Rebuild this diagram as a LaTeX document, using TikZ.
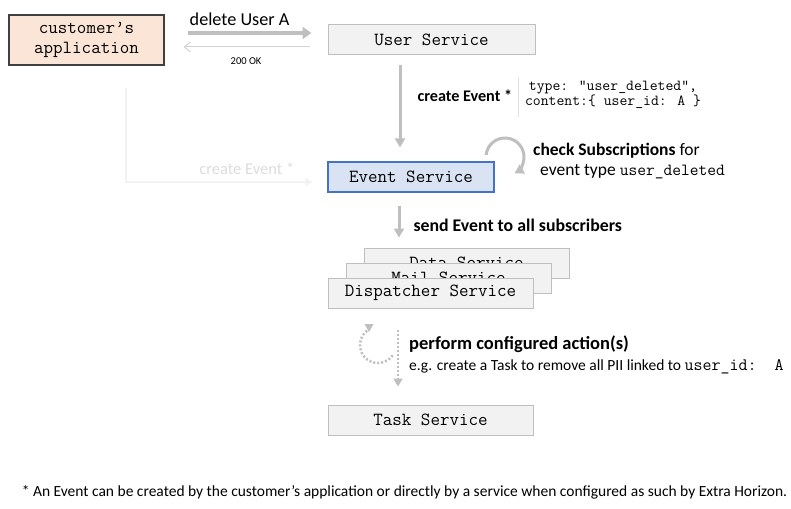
\documentclass[tikz,border=0pt]{standalone}
\usepackage{fontspec}
\setmainfont{Carlito}
\usetikzlibrary{arrows.meta, positioning}

\definecolor{appfill}{HTML}{FBE5D6}
\definecolor{appline}{HTML}{404040}
\definecolor{svcfill}{HTML}{F2F2F2}
\definecolor{svcline}{HTML}{BFBFBF}
\definecolor{evfill}{HTML}{DAE3F3}
\definecolor{evline}{HTML}{4472C4}
\definecolor{arrgray}{HTML}{BFBFBF}
\definecolor{faint}{HTML}{F2F2F2}
\definecolor{fainttext}{HTML}{DCDCDC}

\begin{document}
\begin{tikzpicture}[x=1pt, y=-1pt,
    svcbox/.style={rectangle, draw=svcline, fill=svcfill, line width=1pt,
                   minimum width=205pt, minimum height=30pt, inner sep=0pt,
                   font=\fontsize{18.5}{20}\selectfont\ttfamily},
    appbox/.style={svcbox, draw=appline, fill=appfill, line width=1.2pt,
                   minimum width=155pt, minimum height=50pt, align=center},
    evbox/.style={svcbox, draw=evline, fill=evfill, line width=1.2pt,
                  minimum width=166pt},
    lbl/.style={inner sep=0pt, font=\fontsize{16.5}{20}\selectfont},
    blbl/.style={inner sep=0pt, font=\fontsize{17.8}{20}\selectfont\bfseries},
    code/.style={inner sep=0pt, font=\fontsize{15.3}{12}\selectfont\ttfamily},
    bigarr/.style={-{Triangle[width=12pt, length=9pt]}, line width=4pt, draw=arrgray},
    thinarr/.style={-{Straight Barb[width=10pt, length=6pt]}, line width=1pt, draw=arrgray!70},
    downarr/.style={-{Triangle[width=10pt, length=9pt]}, line width=3pt, draw=arrgray},
    fadearr/.style={-{Triangle[width=9pt, length=7pt]}, line width=2.5pt, draw=faint},
    dotarr/.style={-{Triangle[width=9pt, length=8pt]}, line width=2.5pt, draw=arrgray,
                   dash pattern=on 2pt off 2pt},
]

\useasboundingbox (0,0) rectangle (791,508);

% --- top row ---
\node (app)  [appbox] at (86.5, 40) {customer’s\\application};
\node (user) [svcbox, minimum width=207pt] at (431.5, 40) {User Service};

\draw [bigarr, shorten <=23pt, shorten >=16pt]
    ([yshift=7pt]app.east) -- ([yshift=7pt]user.west)
    node[pos=0.46, above=5pt, lbl, font=\fontsize{18.2}{20}\selectfont]{delete User A};
\draw [thinarr, shorten <=18pt, shorten >=19pt]
    ([yshift=-7pt]user.west) -- ([yshift=-7pt]app.east)
    node[midway, below=10pt, inner sep=0pt, font=\fontsize{10.5}{12}\selectfont]{200 OK};

% --- event service ---
\node (event) [evbox] at (411, 177) {Event Service};

\draw [downarr, shorten <=10pt, shorten >=14pt]
    ([xshift=-31.5pt]user.south) -- ([xshift=-31.5pt]user.south |- event.north)
    node[pos=0.38, right=16pt, blbl, font=\fontsize{16.2}{20}\selectfont\bfseries]{create Event *};

% payload of the event
\draw [svcline!50, line width=0.8pt] (518, 77) -- (518, 117);
\node (payload) [code, align=center] at (613, 95)
    {type: “user\_deleted”,\\content:\{ user\_id: A \}};

% customer's application may create the event itself
\draw [fadearr, shorten >=15pt]
    ([xshift=39.5pt, yshift=-22pt]app.south) |- ([yshift=-5pt]event.west)
    node[pos=0.8, above=6pt, lbl, text=fainttext]{create Event *};

% check subscriptions (loop)
\draw [downarr, line width=3pt]
    (486.1, 155) arc[start angle=186, end angle=420, radius=19];
\node (check) [lbl, align=left, anchor=west,
               font=\fontsize{17.5}{20}\selectfont] at (533, 161)
    {\textbf{check Subscriptions} for\\
     \hspace*{7pt}event type {\ttfamily\fontsize{17}{20}\selectfont user\_deleted}};

% --- subscribers ---
\node (data) [svcbox] at (466.5, 263) {Data Service};
\node (mail) [svcbox] at (448.5, 278) {Mail Service};
\node (disp) [svcbox] at (430.5, 293) {Dispatcher Service};

\draw [downarr, shorten <=13pt, shorten >=10pt]
    ([xshift=-12pt]event.south) -- ([xshift=-12pt]event.south |- data.north)
    node[pos=0.59, right=13pt, blbl]{send Event to all subscribers};

% --- configured action ---
\node (task) [svcbox] at (430.5, 420) {Task Service};

\draw [dotarr, shorten <=21pt, shorten >=18pt]
    ([xshift=-32.5pt]disp.south) -- ([xshift=-32.5pt]disp.south |- task.north);
\draw [arrgray, line width=2.5pt, dash pattern=on 2pt off 2pt]
    (392.7, 355.3) arc[start angle=35, end angle=240, radius=18];
\fill [arrgray] (364.5, 324) -- (373.5, 324) -- (369, 332) -- cycle;

\node (act) [blbl, anchor=west, font=\fontsize{18.5}{20}\selectfont\bfseries] at (409, 344)
    {perform configured action(s)};
\node (actnote) [lbl, anchor=west, font=\fontsize{15.5}{20}\selectfont] at (409, 367)
    {e.g. create a Task to remove all PII linked to
     {\ttfamily\fontsize{17.5}{20}\selectfont user\_id:~~A}};

% --- footnote ---
\node (note) [lbl, font=\fontsize{15.5}{18}\selectfont] at (404.5, 492)
    {* An Event can be created by the customer’s application or directly by a service when configured as such by Extra Horizon.};

\end{tikzpicture}
\end{document}
